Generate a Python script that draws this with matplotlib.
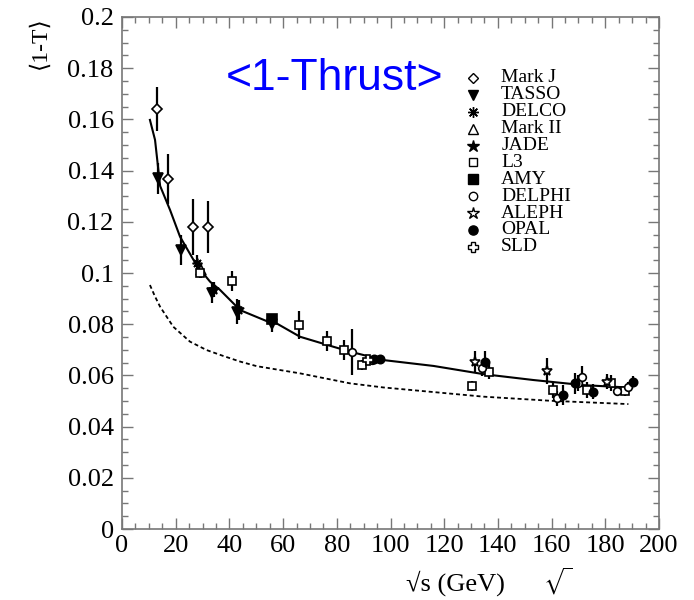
import matplotlib
matplotlib.use("Agg")
import matplotlib.pyplot as plt
from matplotlib.ticker import MultipleLocator, FuncFormatter

plt.rcParams["font.family"] = ["Liberation Serif", "DejaVu Serif"]
plt.rcParams["mathtext.fontset"] = "stix"

# measurements: sqrt(s) [GeV], <1-T>, error
markj_e = [13.0, 17.0, 26.6, 31.9]
markj_t = [0.164, 0.1366, 0.118, 0.118]
markj_err = [0.0087, 0.0098, 0.011, 0.010]

tasso_e = [13.5, 21.9, 33.4, 42.7, 56.0]
tasso_t = [0.137, 0.109, 0.0923, 0.0849, 0.0800]
tasso_err = [0.006, 0.006, 0.004, 0.005, 0.003]

delco_e = [28.0]
delco_t = [0.104]
delco_err = [0.003]

mark2_e = [29.5]
mark2_t = [0.101]
mark2_err = [0.003]

jade_e = [34.2, 43.5]
jade_t = [0.0935, 0.0855]
jade_err = [0.003, 0.004]

l3_e = [29.0, 40.8, 66.0, 76.2, 82.7, 89.3, 130.5, 136.8, 160.6, 173.0, 182.0, 187.3]
l3_t = [0.100, 0.0969, 0.0797, 0.0734, 0.0700, 0.0640, 0.0560, 0.0615, 0.0543, 0.0543, 0.0570, 0.0540]
l3_err = [0.002, 0.004, 0.0055, 0.004, 0.004, 0.002, 0.002, 0.003, 0.003, 0.003, 0.003, 0.002]

amy_e = [56.0]
amy_t = [0.0819]
amy_err = [0.002]

delphi_e = [85.5, 93.0, 134.0, 162.1, 169.8, 171.2, 184.2, 188.6]
delphi_t = [0.0693, 0.0660, 0.0628, 0.0510, 0.0570, 0.0595, 0.0540, 0.0556]
delphi_err = [0.009, 0.001, 0.003, 0.003, 0.003, 0.004, 0.002, 0.002]

aleph_e = [131.5, 158.2, 180.5]
aleph_t = [0.0654, 0.0618, 0.0576]
aleph_err = [0.004, 0.005, 0.003]

opal_e = [94.0, 96.0, 135.2, 164.1, 168.7, 175.5, 190.2]
opal_t = [0.0663, 0.0663, 0.0654, 0.0523, 0.0569, 0.0537, 0.0576]
opal_err = [0.001, 0.001, 0.004, 0.004, 0.004, 0.003, 0.002]

sld_e = [91.5]
sld_t = [0.0660]
sld_err = [0.002]

# fit (solid) and perturbative-only (dashed) curves
fit_e = [10.4, 12.3, 14.2, 17.9, 21.6, 27.8, 32.8, 36.5, 44.0, 53.9, 57.6, 66.3,
         78.7, 84.9, 97.3, 116.0, 134.6, 153.2, 171.8, 190.0]
fit_t = [0.1598, 0.152, 0.134, 0.1246, 0.1142, 0.103, 0.0966, 0.0934, 0.0855, 0.0812,
         0.0803, 0.0751, 0.0712, 0.0693, 0.0660, 0.0637, 0.0605, 0.0582, 0.0562, 0.0552]

pert_e = [10.4, 12.3, 14.2, 19.1, 25.3, 31.5, 37.7, 44.0, 50.2, 66.3, 78.7, 84.9,
          97.3, 134.6, 159.4, 188.6]
pert_t = [0.0953, 0.0908, 0.0868, 0.0790, 0.0732, 0.0699, 0.0676, 0.0654, 0.0636,
          0.0608, 0.0582, 0.0569, 0.0553, 0.0517, 0.0501, 0.0488]

experiments = [
    ("Mark J", markj_e, markj_t, markj_err, "D", "white", 5),
    ("TASSO", tasso_e, tasso_t, tasso_err, "v", "black", 6.5),
    ("DELCO", delco_e, delco_t, delco_err, (8, 2, 0), "none", 7),
    ("Mark II", mark2_e, mark2_t, mark2_err, "^", "white", 7),
    ("JADE", jade_e, jade_t, jade_err, "*", "black", 8),
    ("L3", l3_e, l3_t, l3_err, "s", "white", 5.5),
    ("AMY", amy_e, amy_t, amy_err, "s", "black", 6.5),
    ("DELPHI", delphi_e, delphi_t, delphi_err, "o", "white", 5.5),
    ("ALEPH", aleph_e, aleph_t, aleph_err, "*", "white", 8),
    ("OPAL", opal_e, opal_t, opal_err, "o", "black", 6),
    ("SLD", sld_e, sld_t, sld_err, "P", "white", 7),
]

fig = plt.figure(figsize=(6.94, 6.0), dpi=100)
ax = fig.add_axes([0.1758, 0.1183, 0.7738, 0.8534])

ax.plot(fit_e, fit_t, color="black", lw=1.5, zorder=2)
ax.plot(pert_e, pert_t, color="black", lw=1.3, dashes=(2.2, 1.6), zorder=2)

for name, e, t, err, mk, fc, ms in experiments:
    ax.errorbar(e, t, yerr=err, fmt="none", ecolor="black", elinewidth=1.6,
                capsize=0, zorder=3)
    ax.plot(e, t, ls="none", marker=mk, ms=ms, mfc=fc, mec="black", mew=1.2,
            zorder=4)

# legend, drawn by hand to mimic the original's tight column
for i, (name, e, t, err, mk, fc, ms) in enumerate(experiments):
    yy = 0.881 - i * 0.033
    ax.plot([0.654], [yy], ls="none", marker=mk, ms=ms * 1.1, mfc=fc,
            mec="black", mew=1.0, transform=ax.transAxes, clip_on=False)
    ax.text(0.706, yy, name, fontsize=14, ha="left", va="center",
            transform=ax.transAxes)

ax.set_xlim(0, 200)
ax.set_ylim(0, 0.2)
ax.xaxis.set_major_locator(MultipleLocator(20))
ax.xaxis.set_minor_locator(MultipleLocator(5))
ax.yaxis.set_major_locator(MultipleLocator(0.02))
ax.yaxis.set_minor_locator(MultipleLocator(0.005))
ax.yaxis.set_major_formatter(FuncFormatter(lambda v, p: f"{v:.2f}".rstrip("0").rstrip(".")
                                           if v != 0 else "0"))
ax.tick_params(which="both", direction="in", top=True, right=True,
               color="#777777", labelsize=19)
ax.tick_params(which="major", length=8, width=1.0)
ax.tick_params(which="minor", length=4, width=1.0)
ax.tick_params(axis="x", pad=4)
ax.tick_params(axis="y", pad=6)
for s in ax.spines.values():
    s.set_color("#777777")
    s.set_linewidth(1.2)

fig.text(40 / 694, 1 - 43 / 600, "⟨1-T⟩", rotation=90, fontsize=17,
         ha="center", va="center")
fig.text(455 / 694, 1 - 583 / 600, "√s (GeV)", fontsize=19,
         ha="center", va="center")
fig.text(558 / 694, 1 - 581 / 600, r"$\sqrt{\,}$", fontsize=15,
         ha="center", va="center")
fig.text(334 / 694, 1 - 90 / 600, "<1-Thrust>", fontsize=32, color="#0000ff",
         family="Liberation Sans", ha="center", va="baseline")

fig.savefig("out.png", dpi=100)
